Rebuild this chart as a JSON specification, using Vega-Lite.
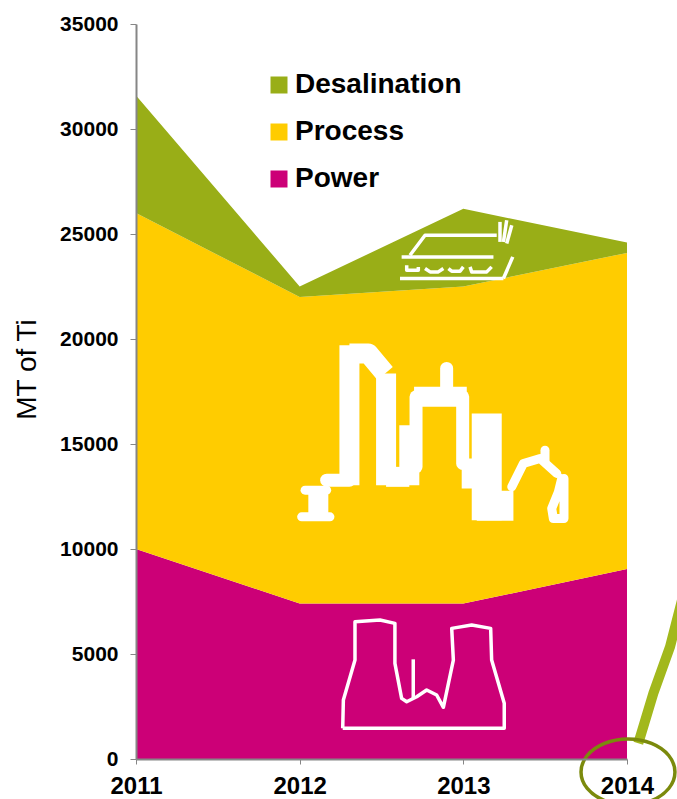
{"$schema":"https://vega.github.io/schema/vega-lite/v6.json","width":491,"height":735,"autosize":{"type":"none"},"padding":{"left":136,"top":24,"right":50,"bottom":40},"background":"white","config":{"view":{"stroke":null},"font":"Liberation Sans"},
"datasets":{
"w30":[{"part":"t","seq":1,"x":2013.143,"y":16451},{"part":"t","seq":2,"x":2013.143,"y":11373},{"part":"u","seq":1,"x":2012.99,"y":13595},{"part":"u","seq":2,"x":2013.143,"y":13595},{"part":"v","seq":1,"x":2013.082,"y":12055},{"part":"v","seq":2,"x":2013.306,"y":12055}],
"w20":[{"part":"a","seq":1,"x":2012.304,"y":19705},{"part":"a","seq":2,"x":2012.304,"y":13039},{"part":"b","seq":1,"x":2012.304,"y":19308},{"part":"b","seq":2,"x":2012.42,"y":19308},{"part":"b","seq":3,"x":2012.522,"y":18356},{"part":"c","seq":1,"x":2012.528,"y":18356},{"part":"c","seq":2,"x":2012.528,"y":13039},{"part":"d","seq":1,"x":2012.528,"y":13436},{"part":"d","seq":2,"x":2012.67,"y":13436},{"part":"e","seq":1,"x":2012.67,"y":15896},{"part":"e","seq":2,"x":2012.67,"y":13039},{"part":"g","seq":1,"x":2012.699,"y":17245},{"part":"g","seq":2,"x":2013.021,"y":17245},{"part":"h","seq":1,"x":2012.114,"y":12801},{"part":"h","seq":2,"x":2012.114,"y":11532}],
"w13":[{"part":"i","seq":1,"x":2012.996,"y":17245},{"part":"i","seq":2,"x":2012.996,"y":14071},{"part":"j","seq":1,"x":2012.711,"y":17245},{"part":"j","seq":2,"x":2012.711,"y":13912},{"part":"k","seq":1,"x":2012.898,"y":18600},{"part":"k","seq":2,"x":2012.898,"y":17500},{"part":"l","seq":1,"x":2012.165,"y":13277},{"part":"l","seq":2,"x":2012.304,"y":13277}],
"w9":[{"part":"m","seq":1,"x":2013.296,"y":12960},{"part":"m","seq":2,"x":2013.367,"y":14071},{"part":"m","seq":3,"x":2013.469,"y":14309},{"part":"m","seq":4,"x":2013.571,"y":13595},{"part":"n","seq":1,"x":2013.499,"y":14705},{"part":"n","seq":2,"x":2013.499,"y":14229},{"part":"o","seq":1,"x":2013.615,"y":13356},{"part":"o","seq":2,"x":2013.615,"y":11452},{"part":"o","seq":3,"x":2013.55,"y":11452},{"part":"o","seq":4,"x":2013.54,"y":11928},{"part":"o","seq":5,"x":2013.581,"y":12722},{"part":"o","seq":6,"x":2013.601,"y":13356},{"part":"q","seq":1,"x":2012.012,"y":11532},{"part":"q","seq":2,"x":2012.185,"y":11532},{"part":"r","seq":1,"x":2012.033,"y":12801},{"part":"r","seq":2,"x":2012.165,"y":12801}],
"w3":[{"part":"tower","seq":1,"x":2012.263,"y":1461},{"part":"tower","seq":2,"x":2013.25,"y":1461},{"part":"tower","seq":3,"x":2013.25,"y":2651},{"part":"tower","seq":4,"x":2013.173,"y":4712},{"part":"tower","seq":5,"x":2013.167,"y":6221},{"part":"tower","seq":6,"x":2013.051,"y":6378},{"part":"tower","seq":7,"x":2012.929,"y":6221},{"part":"tower","seq":8,"x":2012.939,"y":4712},{"part":"tower","seq":9,"x":2012.878,"y":2461},{"part":"tower","seq":10,"x":2012.837,"y":3046},{"part":"tower","seq":11,"x":2012.776,"y":3284},{"part":"tower","seq":12,"x":2012.715,"y":2965},{"part":"tower","seq":13,"x":2012.654,"y":2727},{"part":"tower","seq":14,"x":2012.623,"y":2889},{"part":"tower","seq":15,"x":2012.582,"y":4555},{"part":"tower","seq":16,"x":2012.582,"y":6459},{"part":"tower","seq":17,"x":2012.491,"y":6616},{"part":"tower","seq":18,"x":2012.338,"y":6535},{"part":"tower","seq":19,"x":2012.338,"y":4712},{"part":"tower","seq":20,"x":2012.267,"y":2808},{"part":"tower","seq":21,"x":2012.263,"y":1461},{"part":"stem","seq":1,"x":2012.694,"y":4746},{"part":"stem","seq":2,"x":2012.694,"y":2889},
{"part":"s1","seq":1,"x":2013.204,"y":24942},{"part":"s1","seq":2,"x":2012.766,"y":24942},{"part":"s1","seq":3,"x":2012.674,"y":23989},{"part":"s2","seq":1,"x":2012.623,"y":23910},{"part":"s2","seq":2,"x":2013.184,"y":23910},{"part":"s3","seq":1,"x":2013.224,"y":25576},{"part":"s3","seq":2,"x":2013.224,"y":24624},{"part":"s4","seq":1,"x":2013.265,"y":25656},{"part":"s4","seq":2,"x":2013.245,"y":24624},{"part":"s5","seq":1,"x":2013.296,"y":25418},{"part":"s5","seq":2,"x":2013.265,"y":24545},{"part":"b1","seq":1,"x":2012.654,"y":23513},{"part":"b1","seq":2,"x":2012.654,"y":23275},{"part":"b1","seq":3,"x":2012.725,"y":23275},{"part":"b1","seq":4,"x":2012.725,"y":23434},{"part":"b2","seq":1,"x":2012.766,"y":23355},{"part":"b2","seq":2,"x":2012.797,"y":23196},{"part":"b2","seq":3,"x":2012.847,"y":23196},{"part":"b2","seq":4,"x":2012.878,"y":23355},{"part":"b3","seq":1,"x":2012.909,"y":23355},{"part":"b3","seq":2,"x":2012.929,"y":23228},{"part":"b3","seq":3,"x":2012.98,"y":23228},{"part":"b3","seq":4,"x":2013.0,"y":23434},{"part":"b4","seq":1,"x":2013.041,"y":23434},{"part":"b4","seq":2,"x":2013.051,"y":23196},{"part":"b4","seq":3,"x":2013.143,"y":23196},{"part":"b4","seq":4,"x":2013.173,"y":23434},{"part":"s6","seq":1,"x":2012.613,"y":22879},{"part":"s6","seq":2,"x":2013.245,"y":22879},{"part":"s7","seq":1,"x":2013.245,"y":22879},{"part":"s7","seq":2,"x":2013.302,"y":23910}],
"ring":[{"x":2014.293,"y":-619,"seq":1},{"x":2014.255,"y":167,"seq":2},{"x":2014.15,"y":743,"seq":3},{"x":2014.006,"y":952,"seq":4},{"x":2013.863,"y":743,"seq":5},{"x":2013.757,"y":167,"seq":6},{"x":2013.719,"y":-619,"seq":7},{"x":2013.757,"y":-1404,"seq":8},{"x":2013.863,"y":-1980,"seq":9},{"x":2014.006,"y":-2190,"seq":10},{"x":2014.15,"y":-1980,"seq":11},{"x":2014.255,"y":-1404,"seq":12}],
"pointer":[{"x":2014.069,"y":747,"seq":1},{"x":2014.161,"y":3127,"seq":2},{"x":2014.263,"y":5345,"seq":3},{"x":2014.336,"y":7568,"seq":4}]
},
"layer":[
{"data":{"values":[
{"year":2011,"sector":"Power","rank":1,"value":10000},{"year":2012,"sector":"Power","rank":1,"value":7400},{"year":2013,"sector":"Power","rank":1,"value":7400},{"year":2014,"sector":"Power","rank":1,"value":9050},
{"year":2011,"sector":"Process","rank":2,"value":16000},{"year":2012,"sector":"Process","rank":2,"value":14600},{"year":2013,"sector":"Process","rank":2,"value":15100},{"year":2014,"sector":"Process","rank":2,"value":15050},
{"year":2011,"sector":"Desalination","rank":3,"value":5600},{"year":2012,"sector":"Desalination","rank":3,"value":500},{"year":2013,"sector":"Desalination","rank":3,"value":3700},{"year":2014,"sector":"Desalination","rank":3,"value":500}]},
"mark":{"type":"area"},
"encoding":{
"x":{"field":"year","type":"quantitative","scale":{"domain":[2011,2014],"nice":false,"zero":false},"axis":{"values":[2011,2012,2013,2014],"format":"d","title":null,"grid":false,"domainColor":"#868686","domainWidth":2,"tickColor":"#868686","tickSize":5,"labelFontSize":24,"labelFontWeight":"bold","labelFont":"Liberation Sans","labelColor":"#000","labelPadding":10,"labelFlush":false,"labelOverlap":false,"labelDx":3,"zindex":1}},
"y":{"field":"value","type":"quantitative","stack":"zero","scale":{"domain":[0,35000],"nice":false},"axis":{"values":[0,5000,10000,15000,20000,25000,30000,35000],"format":"d","title":"MT of Ti","titleFontSize":28,"titleFontWeight":"normal","titleFont":"Liberation Sans","titleColor":"#000","titleX":-95,"titleY":345,"grid":false,"domainColor":"#868686","domainWidth":2,"tickColor":"#868686","tickSize":6,"labelFontSize":21,"labelFontWeight":"bold","labelFont":"Liberation Sans","labelColor":"#000","labelPadding":12,"labelFlush":false,"zindex":1}},
"color":{"field":"sector","type":"nominal","scale":{"domain":["Desalination","Process","Power"],"range":["#99AE17","#FFCC00","#CC0077"]},"legend":{"orient":"none","legendX":129,"legendY":47,"title":null,"symbolType":"square","symbolSize":289,"symbolStrokeWidth":0,"labelFontSize":28,"labelFontWeight":"bold","labelFont":"Liberation Sans","labelColor":"#000","labelLimit":400,"rowPadding":19,"labelOffset":2}},
"order":{"field":"rank","type":"quantitative"}}},
{"data":{"name":"w30"},"mark":{"type":"line","color":"white","strokeWidth":30,"strokeCap":"butt"},"encoding":{"x":{"field":"x","type":"quantitative"},"y":{"field":"y","type":"quantitative"},"detail":{"field":"part"},"order":{"field":"seq"}}},
{"data":{"name":"w20"},"mark":{"type":"line","color":"white","strokeWidth":20,"strokeCap":"butt","strokeJoin":"round"},"encoding":{"x":{"field":"x","type":"quantitative"},"y":{"field":"y","type":"quantitative"},"detail":{"field":"part"},"order":{"field":"seq"}}},
{"data":{"name":"w13"},"mark":{"type":"line","color":"white","strokeWidth":13,"strokeCap":"round"},"encoding":{"x":{"field":"x","type":"quantitative"},"y":{"field":"y","type":"quantitative"},"detail":{"field":"part"},"order":{"field":"seq"}}},
{"data":{"name":"w9"},"mark":{"type":"line","color":"white","strokeWidth":9,"strokeCap":"round","strokeJoin":"round"},"encoding":{"x":{"field":"x","type":"quantitative"},"y":{"field":"y","type":"quantitative"},"detail":{"field":"part"},"order":{"field":"seq"}}},
{"data":{"name":"w3"},"mark":{"type":"line","color":"white","strokeWidth":3.5,"strokeJoin":"round"},"encoding":{"x":{"field":"x","type":"quantitative"},"y":{"field":"y","type":"quantitative"},"detail":{"field":"part"},"order":{"field":"seq"}}},
{"data":{"name":"pointer"},"mark":{"type":"line","color":"#A2B81C","strokeWidth":10,"strokeCap":"butt"},"encoding":{"x":{"field":"x","type":"quantitative"},"y":{"field":"y","type":"quantitative"},"order":{"field":"seq"}}},
{"data":{"name":"ring"},"mark":{"type":"line","color":"#7B8A0C","strokeWidth":3.5,"interpolate":"cardinal-closed"},"encoding":{"x":{"field":"x","type":"quantitative"},"y":{"field":"y","type":"quantitative"},"order":{"field":"seq"}}}
]}
